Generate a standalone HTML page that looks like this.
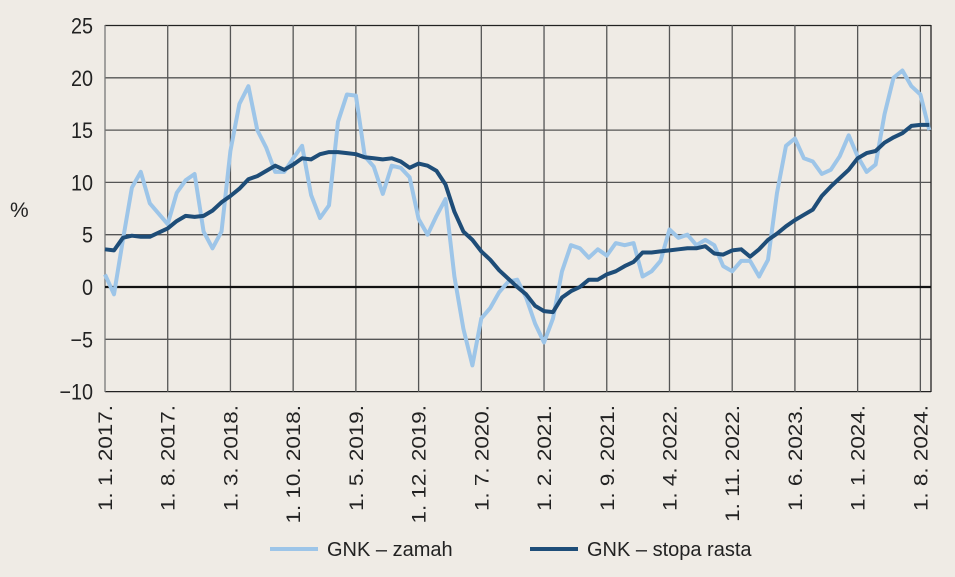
<!DOCTYPE html>
<html><head><meta charset="utf-8"><style>
html,body{margin:0;padding:0;background:#efebe5;}
svg{display:block;font-family:"Liberation Sans",sans-serif;}
</style></head><body>
<svg id="s" width="955" height="577" xmlns="http://www.w3.org/2000/svg">
<rect width="955" height="577" fill="#efebe5"/>
<g id="grid"></g>
<g id="lab" fill="#222"></g>
<text x="10" y="217" font-size="21" fill="#222">%</text>
<line x1="270" y1="549" x2="318" y2="549" stroke="#9dc5e8" stroke-width="4"/>
<text x="327" y="556" font-size="20" fill="#222">GNK – zamah</text>
<line x1="530" y1="549" x2="578" y2="549" stroke="#1e4d78" stroke-width="4"/>
<text x="587" y="556" font-size="20" fill="#222">GNK – stopa rasta</text>
</svg>
<script>
var NS="http://www.w3.org/2000/svg";
function el(t,a,p){var e=document.createElementNS(NS,t);for(var k in a)e.setAttribute(k,a[k]);p.appendChild(e);return e;}
var g=document.getElementById('grid'),lab=document.getElementById('lab'),s=document.getElementById('s');
var L=105,R=931,T=25,dx=8.96;
function Y(v){return 287-v*10.46;}
for(var v=-10;v<=25;v+=5){var y=Y(v);
 if(v!=0)el('line',{x1:L,x2:R,y1:y,y2:y,stroke:v==25||v==-10?'#222':'#555',"stroke-width":1.3},g);
 var t=el('text',{x:0,y:0,"font-size":22,"text-anchor":"end",transform:"translate(93,"+(y+8)+") scale(0.9,1)"},lab);t.textContent=(v<0?'−'+(-v):v);}
var labels=["1. 1. 2017.","1. 8. 2017.","1. 3. 2018.","1. 10. 2018.","1. 5. 2019.","1. 12. 2019.","1. 7. 2020.","1. 2. 2021.","1. 9. 2021.","1. 4. 2022.","1. 11. 2022.","1. 6. 2023.","1. 1. 2024.","1. 8. 2024."];
for(var i=0;i<14;i++){var x=L+i*7*dx;
 el('line',{x1:x,x2:x,y1:T,y2:392,stroke:i==0?'#777':'#555',"stroke-width":1.3},g);
 var t=el('text',{x:0,y:0,"font-size":22,"text-anchor":"end",transform:"translate("+(x+7)+",405) rotate(-90) scale(1.02,0.9)"},lab);t.textContent=labels[i];}
el('line',{x1:R,x2:R,y1:T,y2:392,stroke:'#222',"stroke-width":1.3},g);
el('line',{x1:L,x2:R,y1:Y(0),y2:Y(0),stroke:'#111',"stroke-width":2.2},g);
var a=[1.2,-0.7,4.5,9.5,11,8,7,6,9,10.2,10.8,5.3,3.7,5.3,13,17.5,19.2,15,13.3,11,11,12.3,13.5,8.8,6.6,7.8,15.8,18.4,18.3,12.5,11.5,8.9,11.6,11.4,10.5,6.5,5,6.8,8.4,1,-4,-7.5,-3,-2,-0.5,0.5,0.7,-1,-3.5,-5.3,-3,1.5,4,3.7,2.8,3.6,3,4.2,4,4.2,1,1.5,2.5,5.5,4.7,5,4,4.5,4,2,1.5,2.5,2.5,1,2.6,9,13.5,14.2,12.3,12,10.8,11.2,12.5,14.5,12.5,11,11.7,16.5,20,20.7,19.2,18.4,15];
var b=[3.6,3.5,4.7,4.9,4.8,4.8,5.2,5.6,6.3,6.8,6.7,6.8,7.3,8.1,8.7,9.4,10.3,10.6,11.1,11.6,11.2,11.7,12.3,12.2,12.7,12.9,12.9,12.8,12.7,12.4,12.3,12.2,12.3,12,11.4,11.8,11.6,11.1,9.8,7.2,5.3,4.5,3.4,2.6,1.6,0.8,0,-0.7,-1.8,-2.3,-2.4,-1,-0.4,0,0.7,0.7,1.2,1.5,2,2.4,3.3,3.3,3.4,3.5,3.6,3.7,3.7,3.9,3.2,3.1,3.5,3.6,2.9,3.6,4.5,5.1,5.8,6.4,6.9,7.4,8.7,9.6,10.4,11.2,12.3,12.8,13,13.8,14.3,14.7,15.4,15.5,15.5];
function pts(d){return d.map(function(v,i){return (L+i*dx).toFixed(1)+","+Y(v).toFixed(1);}).join(" ");}
el('polyline',{points:pts(a),fill:"none",stroke:"#9dc5e8","stroke-width":4,"stroke-linejoin":"round"},s);
el('polyline',{points:pts(b),fill:"none",stroke:"#1e4d78","stroke-width":4,"stroke-linejoin":"round"},s);
</script>
</body></html>
